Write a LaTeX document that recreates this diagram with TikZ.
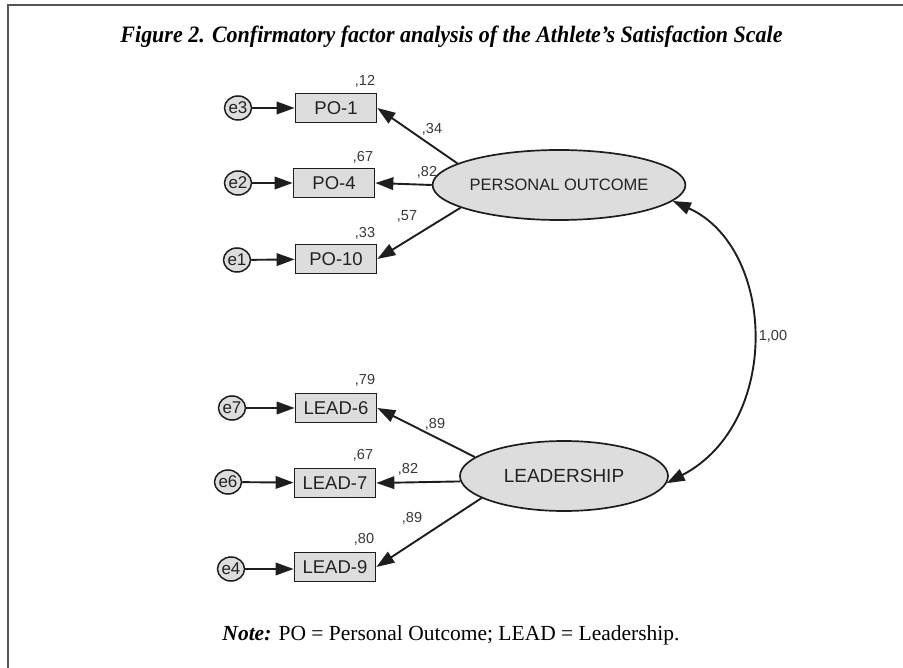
\documentclass[tikz,border=0pt]{standalone}
\usepackage{fontspec}
\usepackage{graphicx}
\setmainfont{Liberation Serif}
\newfontfamily\arialfont{Liberation Sans}
\usetikzlibrary{arrows.meta,shapes.geometric}
\definecolor{ink}{HTML}{1E1E1E}
\definecolor{txt}{HTML}{222222}
\definecolor{boxfill}{HTML}{DDDDDD}
\definecolor{framecol}{HTML}{555555}
\begin{document}
\begin{tikzpicture}[x=1pt,y=-1pt,
  obs/.style={draw=ink, line width=1.7pt, fill=boxfill, minimum width=81pt, minimum height=29pt, inner sep=0pt, text=txt, font=\arialfont\fontsize{18.5}{18.5}\selectfont},
  err/.style={ellipse, draw=ink, line width=1.5pt, fill=boxfill, minimum width=27pt, minimum height=24pt, inner sep=0pt, text=txt, font=\arialfont\fontsize{17}{17}\selectfont},
  lat/.style={ellipse, draw=ink, line width=1.7pt, fill=boxfill, minimum width=208pt, minimum height=70pt, inner sep=0pt, text=txt},
  arr/.style={line width=1.9pt, draw=ink, -{Triangle[length=18pt,width=12.5pt]}},
  est/.style={text=txt!90, font=\arialfont\fontsize{14.5}{14.5}\selectfont, inner sep=0pt},
]
\useasboundingbox (0,0) rectangle (903,668);
\fill[white] (0,0) rectangle (903,668);
\draw[framecol, line width=2pt] (8,668) -- (8,5) -- (903,5);

\node[anchor=base, text=black] (title) at (451.5,43) {\resizebox{662pt}{\height}{\fontsize{23.5}{23.5}\selectfont\bfseries\itshape Figure 2. Confirmatory factor analysis of the Athlete’s Satisfaction Scale}};
\node[anchor=base, text=black] (note) at (451,640) {\resizebox{457pt}{\height}{\fontsize{21.5}{21.5}\selectfont\textbf{\textit{Note:}} PO = Personal Outcome; LEAD = Leadership.}};

% observed variables
\node[obs] (po1) at (336,108) {PO-1};
\node[obs] (po4) at (334,183) {PO-4};
\node[obs] (po10) at (336,259) {PO-10};
\node[obs] (l6) at (336,408) {LEAD-6};
\node[obs] (l7) at (335,483) {LEAD-7};
\node[obs] (l9) at (335,567) {LEAD-9};

% errors
\node[err] (e3) at (238,108) {e3};
\node[err] (e2) at (238,183) {e2};
\node[err] (e1) at (237,260) {e1};
\node[err] (e7) at (232,408) {e7};
\node[err] (e6) at (228,482) {e6};
\node[err] (e4) at (231,569) {e4};

% latent
\node[lat, font=\arialfont\fontsize{16.5}{16.5}\selectfont] (po) at (559,185) {PERSONAL OUTCOME};
\node[lat, font=\arialfont\fontsize{19}{19}\selectfont] (ld) at (564,476) {LEADERSHIP};

% error paths
\draw[arr] (e3) -- (po1);
\draw[arr] (e2) -- (po4);
\draw[arr] (e1) -- (po10);
\draw[arr] (e7) -- (l6);
\draw[arr] (e6) -- (l7);
\draw[arr] (e4) -- (e4 -| l9.west);

% loadings
\draw[arr] (po.168) -- (po1.east);
\draw[arr] (po.west) -- (po4.east);
\draw[arr] (po.193) -- (po10.east);
\draw[arr] (ld.168) -- (l6.east);
\draw[arr] (ld.183) -- (l7.east);
\draw[arr] (ld.195) -- (l9.east);

% covariance
\draw[line width=1.9pt, draw=ink, {Triangle[length=18pt,width=12.5pt]}-{Triangle[length=18pt,width=12.5pt]}]
  (po.-8) .. controls (776,248) and (782,423) .. (ld.-4);

% estimates
\node[est] (r1) at (365,81) {,12};
\node[est] (r4) at (363,157) {,67};
\node[est] (r10) at (365,233) {,33};
\node[est] (w1) at (432,129) {,34};
\node[est] (w4) at (427,172) {,82};
\node[est] (w10) at (407,216) {,57};
\node[est] (r6) at (365,380) {,79};
\node[est] (r7) at (363,455) {,67};
\node[est] (r9) at (364,539) {,80};
\node[est] (w6) at (435,424) {,89};
\node[est] (w7) at (408,469) {,82};
\node[est] (w9) at (412,518) {,89};
\node[est] (cov) at (773,336) {1,00};
\end{tikzpicture}
\end{document}
